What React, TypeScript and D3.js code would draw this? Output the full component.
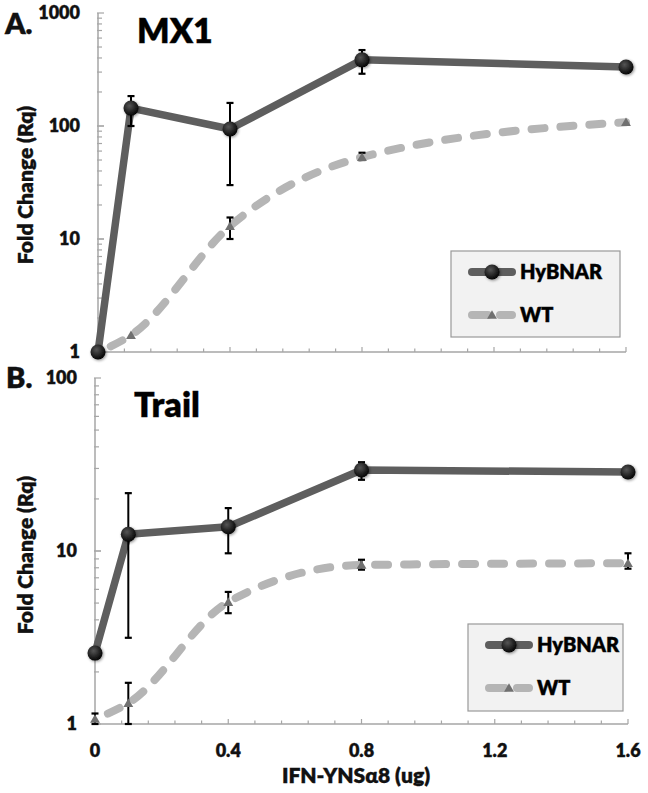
import React, { useRef, useEffect } from 'react';
import * as d3 from 'd3';

// shared x values (IFN dose, ug)
const doses = [0, 0.1, 0.4, 0.8, 1.6];
const xMajorTicks = [0, 0.4, 0.8, 1.2, 1.6];

// panel A: MX1
const mx1Hybnar = [1, 144, 94, 385, 333];
const mx1HybnarLo = [null, 100, 30, 290, null];
const mx1HybnarHi = [null, 184, 160, 470, null];
const mx1Wt = [1, 1.41, 13, 53, 108];
const mx1WtLo = [null, null, 10, 50, null];
const mx1WtHi = [null, null, 15.5, 58, null];
const mx1YTicks = [1, 10, 100, 1000];

// panel B: Trail
const trailHybnar = [2.57, 12.5, 13.8, 29.4, 28.6];
const trailHybnarLo = [null, 3.15, 9.7, 25.8, null];
const trailHybnarHi = [null, 21.6, 17.7, 32.6, null];
const trailWt = [1.07, 1.32, 5.07, 8.3, 8.5];
const trailWtLo = [1.0, 1.0, 4.37, 7.8, 7.9];
const trailWtHi = [1.15, 1.73, 5.8, 8.9, 9.7];
const trailYTicks = [1, 10, 100];

const seriesNames = ['HyBNAR', 'WT'];

const FONT = 'Lato, "Open Sans", sans-serif';
const AXIS = '#a6a6a6';
const DARK = '#5e5e5e';
const LIGHT = '#b5b5b5';

type Panel = {
  letter: string;
  title: string;
  xRange: [number, number];
  yDomain: [number, number];
  yRange: [number, number];
  yTicks: number[];
  hy: number[]; hyLo: (number | null)[]; hyHi: (number | null)[];
  wt: number[]; wtLo: (number | null)[]; wtHi: (number | null)[];
  letterPos: [number, number];
  titlePos: [number, number];
  labelX: number;
  legend: { x: number; y: number; w: number; h: number };
  yTitleY: number;
};

const panels: Panel[] = [
  {
    letter: 'A.', title: 'MX1',
    xRange: [98, 626], yDomain: [1, 1000], yRange: [352, 13], yTicks: mx1YTicks,
    hy: mx1Hybnar, hyLo: mx1HybnarLo, hyHi: mx1HybnarHi,
    wt: mx1Wt, wtLo: mx1WtLo, wtHi: mx1WtHi,
    letterPos: [5, 34], titlePos: [137, 43], labelX: 80,
    legend: { x: 451, y: 251, w: 169, h: 86 }, yTitleY: 185,
  },
  {
    letter: 'B.', title: 'Trail',
    xRange: [95, 628], yDomain: [1, 100], yRange: [724, 378], yTicks: trailYTicks,
    hy: trailHybnar, hyLo: trailHybnarLo, hyHi: trailHybnarHi,
    wt: trailWt, wtLo: trailWtLo, wtHi: trailWtHi,
    letterPos: [6, 388], titlePos: [134, 417], labelX: 77,
    legend: { x: 468, y: 624, w: 155, h: 87 }, yTitleY: 555,
  },
];

export default function App() {
  const svgRef = useRef<SVGSVGElement>(null);

  useEffect(() => {
    document.body.style.margin = '0';
    const svg = d3.select(svgRef.current);
    svg.selectAll('*').remove();

    const defs = svg.append('defs');
    const grad = defs.append('radialGradient').attr('id', 'dotGrad').attr('cx', '40%').attr('cy', '35%').attr('r', '65%');
    grad.append('stop').attr('offset', '0%').attr('stop-color', '#555');
    grad.append('stop').attr('offset', '100%').attr('stop-color', '#050505');
    const glow = defs.append('filter').attr('id', 'glow').attr('x', '-50%').attr('y', '-50%').attr('width', '200%').attr('height', '200%');
    glow.append('feGaussianBlur').attr('in', 'SourceAlpha').attr('stdDeviation', 1.6).attr('result', 'b');
    glow.append('feOffset').attr('in', 'b').attr('dx', 0.5).attr('dy', 1).attr('result', 'o');
    glow.append('feComponentTransfer').attr('in', 'o').attr('result', 's')
      .append('feFuncA').attr('type', 'linear').attr('slope', 0.45);
    const merge = glow.append('feMerge');
    merge.append('feMergeNode').attr('in', 's');
    merge.append('feMergeNode').attr('in', 'SourceGraphic');

    const tri = d3.symbol(d3.symbolTriangle, 42);

    const drawDot = (g: any, cx: number, cy: number) =>
      g.append('circle').attr('cx', cx).attr('cy', cy).attr('r', 7.5)
        .attr('fill', 'url(#dotGrad)').attr('filter', 'url(#glow)');
    const drawTri = (g: any, cx: number, cy: number) =>
      g.append('path').attr('d', tri).attr('transform', `translate(${cx},${cy + 1})`).attr('fill', '#707070');

    const bold = (sel: any, size: number) =>
      sel.attr('font-family', FONT).attr('font-weight', 800).attr('font-size', size)
        .attr('fill', '#111').attr('stroke', '#111').attr('stroke-width', 0.35);

    panels.forEach(p => {
      const g = svg.append('g');
      const x = d3.scaleLinear().domain([0, 1.6]).range(p.xRange);
      const y = d3.scaleLog().domain(p.yDomain).range(p.yRange);
      const x0 = p.xRange[0];
      const yb = p.yRange[0];

      // axes
      g.append('line').attr('x1', x0).attr('x2', x0).attr('y1', p.yRange[1]).attr('y2', yb)
        .attr('stroke', AXIS).attr('stroke-width', 1.5);
      g.append('line').attr('x1', x0).attr('x2', p.xRange[1]).attr('y1', yb).attr('y2', yb)
        .attr('stroke', AXIS).attr('stroke-width', 1.5);

      // log ticks
      const decades = d3.range(Math.log10(p.yDomain[0]), Math.log10(p.yDomain[1]));
      decades.forEach(k => {
        d3.range(1, 11).forEach(m => {
          const v = m * Math.pow(10, k);
          const major = m === 1 || m === 10;
          g.append('line').attr('x1', x0 - 1).attr('x2', x0 + (major ? 6 : 4))
            .attr('y1', y(v)).attr('y2', y(v)).attr('stroke', AXIS).attr('stroke-width', 1.2);
        });
      });
      p.yTicks.forEach(v => {
        bold(g.append('text'), 18).attr('x', p.labelX).attr('y', y(v)).attr('dy', '0.36em')
          .attr('text-anchor', 'end').text(String(v));
      });

      // x ticks (minor every 0.08)
      d3.range(0, 1.6001, 0.08).forEach(v => {
        const major = xMajorTicks.some(t => Math.abs(t - v) < 1e-6);
        g.append('line').attr('x1', x(v)).attr('x2', x(v)).attr('y1', yb - (major ? 5 : 3.5)).attr('y2', yb)
          .attr('stroke', AXIS).attr('stroke-width', 1.2);
      });

      // y title
      bold(g.append('text'), 21).attr('transform', `translate(33,${p.yTitleY}) rotate(-90)`)
        .attr('text-anchor', 'middle').text('Fold Change (Rq)');

      // panel letter & title
      bold(g.append('text'), 29).attr('x', p.letterPos[0]).attr('y', p.letterPos[1]).text(p.letter);
      bold(g.append('text'), 34).attr('x', p.titlePos[0]).attr('y', p.titlePos[1]).attr('fill', '#000').text(p.title);

      // lines
      const straight = d3.line<number>().x((d, i) => x(doses[i])).y(d => y(d));
      const smooth = d3.line<number>().x((d, i) => x(doses[i])).y(d => y(d)).curve(d3.curveMonotoneX);
      g.append('path').attr('d', smooth(p.wt)).attr('fill', 'none').attr('stroke', LIGHT)
        .attr('stroke-width', 8).attr('stroke-linecap', 'round').attr('stroke-dasharray', '13 16')
        .attr('stroke-dashoffset', -14);
      g.append('path').attr('d', straight(p.hy)).attr('fill', 'none').attr('stroke', DARK)
        .attr('stroke-width', 7.5).attr('stroke-linejoin', 'round');

      // error bars
      const errBars = (lo: (number | null)[], hi: (number | null)[]) => {
        doses.forEach((d, i) => {
          const l = lo[i], h = hi[i];
          if (l == null || h == null) return;
          const cx = x(d);
          g.append('line').attr('x1', cx).attr('x2', cx).attr('y1', y(l)).attr('y2', y(h))
            .attr('stroke', '#000').attr('stroke-width', 2);
          [l, h].forEach(v => {
            g.append('line').attr('x1', cx - 3.5).attr('x2', cx + 3.5).attr('y1', y(v)).attr('y2', y(v))
              .attr('stroke', '#000').attr('stroke-width', 2.2);
          });
        });
      };
      errBars(p.hyLo, p.hyHi);
      errBars(p.wtLo, p.wtHi);

      // markers
      p.wt.forEach((v, i) => drawTri(g, x(doses[i]), y(v)));
      p.hy.forEach((v, i) => drawDot(g, x(doses[i]), y(v)));

      // legend
      const L = p.legend;
      g.append('rect').attr('x', L.x).attr('y', L.y).attr('width', L.w).attr('height', L.h)
        .attr('fill', '#f2f2f2').attr('stroke', '#999').attr('stroke-width', 1.2);
      const r1 = L.y + 21, r2 = L.y + 64;
      const sx = L.x + 21;
      g.append('line').attr('x1', sx).attr('x2', sx + 40).attr('y1', r1).attr('y2', r1)
        .attr('stroke', DARK).attr('stroke-width', 8).attr('stroke-linecap', 'round');
      drawDot(g, sx + 20, r1);
      g.append('line').attr('x1', sx).attr('x2', sx + 40).attr('y1', r2).attr('y2', r2)
        .attr('stroke', LIGHT).attr('stroke-width', 8).attr('stroke-linecap', 'round').attr('stroke-dasharray', '16 12');
      drawTri(g, sx + 20, r2);
      [r1, r2].forEach((ry, i) => {
        bold(g.append('text'), 20).attr('x', sx + 48).attr('y', ry).attr('dy', '0.36em')
          .attr('fill', '#000').text(seriesNames[i]);
      });

      // x tick labels only on bottom panel
      if (p.letter === 'B.') {
        xMajorTicks.forEach(v => {
          bold(g.append('text'), 18).attr('x', x(v)).attr('y', 751).attr('dy', '0.36em').attr('text-anchor', 'middle')
            .text(String(v));
        });
        bold(g.append('text'), 21).attr('x', 356).attr('y', 783).attr('text-anchor', 'middle')
          .text('IFN-YNSα8 (ug)');
      }
    });
  }, []);

  return (
    <div style={{ width: 648, height: 793, background: '#fff' }}>
      <svg ref={svgRef} width={648} height={793} style={{ display: 'block' }} />
    </div>
  );
}
